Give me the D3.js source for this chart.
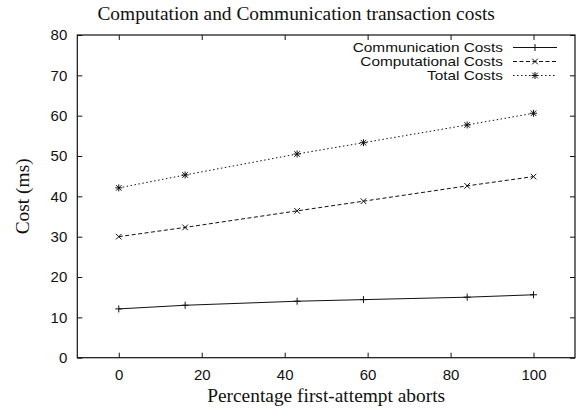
<!DOCTYPE html>
<html>
<head>
<meta charset="utf-8">
<script src="https://cdn.jsdelivr.net/npm/d3@7"></script>
<style>
  html, body { margin: 0; padding: 0; background: #fff; }
  svg { display: block; }
</style>
</head>
<body>
<div id="chart"></div>
<script>
// ---- data ----
const xValues = [0, 16, 43, 59, 84, 100];
const communication = [12.1, 13.0, 14.0, 14.4, 15.0, 15.6];
const computational = [30.0, 32.3, 36.4, 38.8, 42.6, 44.9];
const total = [42.1, 45.3, 50.5, 53.3, 57.7, 60.6];
const xTicks = [0, 20, 40, 60, 80, 100];
const yTicks = [0, 10, 20, 30, 40, 50, 60, 70, 80];
const seriesNames = ["Communication Costs", "Computational Costs", "Total Costs"];
const title = "Computation and Communication transaction costs";
const xLabel = "Percentage first-attempt aborts";
const yLabel = "Cost (ms)";

const W = 576, H = 410;
const margin = {left: 77.3, right: 1, top: 35, bottom: 52.3};

const svg = d3.select("#chart").append("svg").attr("width", W).attr("height", H);

const x = d3.scaleLinear().domain([-10, 110]).range([margin.left, W - margin.right]);
const y = d3.scaleLinear().domain([0, 80]).range([H - margin.bottom, margin.top]);

const sansFont = "'Liberation Sans', Arial, Helvetica, sans-serif";
const serifFont = "'Liberation Serif', 'Times New Roman', serif";
const ink = "#111";

// axes with inward ticks, mirrored
const tickLen = 5;
const gx = svg.append("g").attr("transform", `translate(0,${y(0)})`)
  .call(d3.axisBottom(x).tickValues(xTicks).tickSize(-tickLen).tickPadding(12).tickFormat(d3.format("d")));
const gxTop = svg.append("g").attr("transform", `translate(0,${y(80)})`)
  .call(d3.axisTop(x).tickValues(xTicks).tickSize(-tickLen).tickFormat(""));
const gy = svg.append("g").attr("transform", `translate(${x(-10)},0)`)
  .call(d3.axisLeft(y).tickValues(yTicks).tickSize(-tickLen).tickPadding(10).tickFormat(d3.format("d")));
const gyRight = svg.append("g").attr("transform", `translate(${x(110)},0)`)
  .call(d3.axisRight(y).tickValues(yTicks).tickSize(-tickLen).tickFormat(""));

[gx, gxTop, gy, gyRight].forEach(g => {
  g.select(".domain").remove();
  g.selectAll(".tick line").attr("stroke", ink).attr("stroke-width", 1);
  g.selectAll("text").attr("font-family", sansFont).attr("font-size", 15).attr("fill", ink);
});
gx.selectAll("text").attr("dy", "0.71em");

// frame
svg.append("rect")
  .attr("x", x(-10)).attr("y", y(80))
  .attr("width", x(110) - x(-10)).attr("height", y(0) - y(80))
  .attr("fill", "none").attr("stroke", ink).attr("stroke-width", 1.2);

// series
const series = [
  {name: seriesNames[0], values: communication, dash: null, marker: "plus"},
  {name: seriesNames[1], values: computational, dash: "4,2.5", marker: "cross"},
  {name: seriesNames[2], values: total, dash: "1.5,2.5", marker: "star"}
];

function markerPath(type, cx, cy) {
  const s = 3.5;
  const p = `M${cx - s},${cy}L${cx + s},${cy}M${cx},${cy - s}L${cx},${cy + s}`;
  const c = `M${cx - s * 0.8},${cy - s * 0.8}L${cx + s * 0.8},${cy + s * 0.8}M${cx - s * 0.8},${cy + s * 0.8}L${cx + s * 0.8},${cy - s * 0.8}`;
  if (type === "plus") return p;
  if (type === "cross") return c;
  return p + c;
}

const line = d3.line().x(d => x(d[0])).y(d => y(d[1]));

series.forEach(s => {
  const pts = xValues.map((xv, i) => [xv, s.values[i]]);
  svg.append("path").datum(pts)
    .attr("d", line).attr("fill", "none").attr("stroke", ink).attr("stroke-width", 1)
    .attr("stroke-dasharray", s.dash);
  svg.append("g").selectAll("path").data(pts).join("path")
    .attr("d", d => markerPath(s.marker, x(d[0]), y(d[1])))
    .attr("stroke", ink).attr("stroke-width", 1).attr("fill", "none");
});

// legend
const legendRows = [47.5, 61.5, 75.5];
const legendTextRight = 503;
const sampleX0 = 513, sampleX1 = 557;
series.forEach((s, i) => {
  const ly = legendRows[i];
  const t = svg.append("text").attr("x", legendTextRight).attr("y", ly).attr("dy", "0.35em")
    .attr("text-anchor", "end").attr("font-family", sansFont).attr("font-size", 12.4)
    .attr("fill", ink).text(s.name);
  const len = t.node().getComputedTextLength();
  t.attr("textLength", len * 1.24).attr("lengthAdjust", "spacingAndGlyphs");
  svg.append("line").attr("x1", sampleX0).attr("x2", sampleX1).attr("y1", ly).attr("y2", ly)
    .attr("stroke", ink).attr("stroke-width", 1).attr("stroke-dasharray", s.dash);
  svg.append("path").attr("d", markerPath(s.marker, (sampleX0 + sampleX1) / 2, ly))
    .attr("stroke", ink).attr("stroke-width", 1).attr("fill", "none");
});

// title and labels
svg.append("text").attr("x", (x(-10) + x(110)) / 2 - 30).attr("y", 20)
  .attr("text-anchor", "middle").attr("font-family", serifFont).attr("font-size", 19.4)
  .attr("fill", ink).text(title);
svg.append("text").attr("x", (x(-10) + x(110)) / 2).attr("y", 401.7)
  .attr("text-anchor", "middle").attr("font-family", serifFont).attr("font-size", 19.4)
  .attr("fill", ink).text(xLabel);
svg.append("text").attr("transform", `translate(29,${(y(0) + y(80)) / 2}) rotate(-90)`)
  .attr("text-anchor", "middle").attr("font-family", serifFont).attr("font-size", 19.4)
  .attr("fill", ink).text(yLabel);
</script>
</body>
</html>
